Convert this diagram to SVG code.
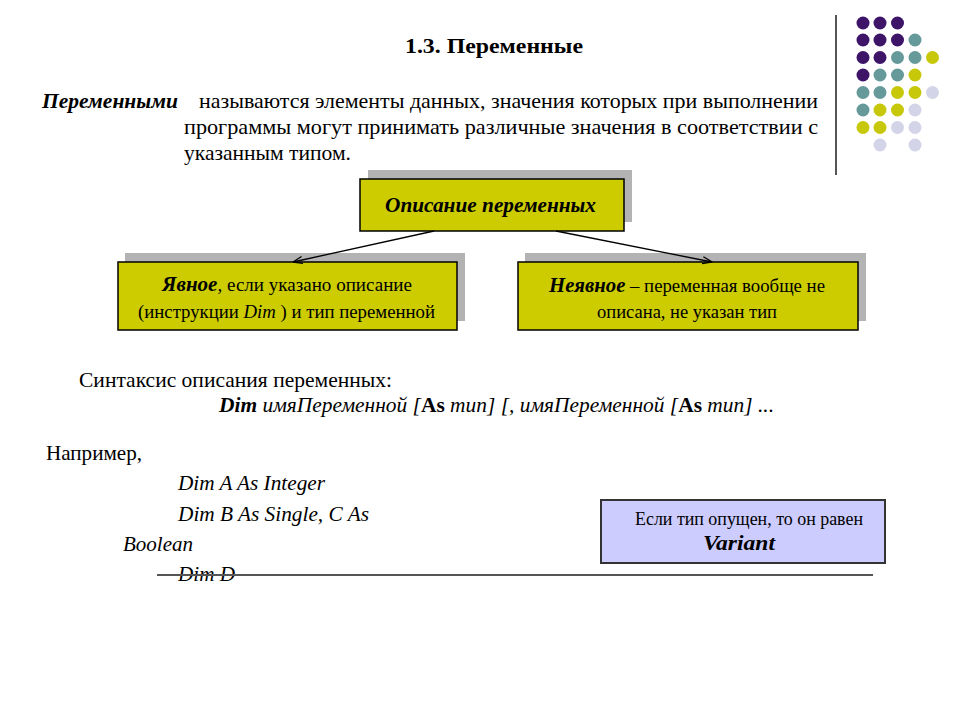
<svg xmlns="http://www.w3.org/2000/svg" width="960" height="720" viewBox="0 0 960 720">
<defs>
<style>
text{font-family:"Liberation Serif","Times New Roman",serif;fill:#000}
.bi{font-weight:bold;font-style:italic}
.i{font-style:italic}
.b{font-weight:bold}
.shadow{fill:#b3b3b3}
.ybox{fill:#cccc00;stroke:#000;stroke-width:1.5}
.conn{stroke:#000;stroke-width:1.3;fill:none}
.P{fill:#3d1468}.T{fill:#669999}.Y{fill:#c8c80a}.L{fill:#d4d4e8}
</style>
<marker id="ah" viewBox="0 0 10 10" refX="9.5" refY="5" markerWidth="10" markerHeight="10" orient="auto" markerUnits="userSpaceOnUse">
<path d="M0,1.5 L9.5,5 L0,8.5" fill="none" stroke="#000" stroke-width="1.3"/>
</marker>
</defs>
<rect width="960" height="720" fill="#fff"/>

<g id="decor">
<line x1="836" y1="15" x2="836" y2="175" stroke="#555" stroke-width="2"/>
<g>
<circle class="P" cx="863" cy="23" r="6.5"/><circle class="P" cx="880" cy="23" r="6.5"/><circle class="P" cx="897.5" cy="23" r="6.5"/>
<circle class="P" cx="863" cy="40" r="6.5"/><circle class="P" cx="880" cy="40" r="6.5"/><circle class="P" cx="897.5" cy="40" r="6.5"/><circle class="T" cx="915" cy="40" r="6.5"/>
<circle class="P" cx="863" cy="57.5" r="6.5"/><circle class="P" cx="880" cy="57.5" r="6.5"/><circle class="T" cx="897.5" cy="57.5" r="6.5"/><circle class="T" cx="915" cy="57.5" r="6.5"/><circle class="Y" cx="932.5" cy="57.5" r="6.5"/>
<circle class="P" cx="863" cy="75" r="6.5"/><circle class="T" cx="880" cy="75" r="6.5"/><circle class="T" cx="897.5" cy="75" r="6.5"/><circle class="Y" cx="915" cy="75" r="6.5"/>
<circle class="T" cx="863" cy="92.5" r="6.5"/><circle class="T" cx="880" cy="92.5" r="6.5"/><circle class="Y" cx="897.5" cy="92.5" r="6.5"/><circle class="Y" cx="915" cy="92.5" r="6.5"/><circle class="L" cx="932.5" cy="92.5" r="6.5"/>
<circle class="T" cx="863" cy="110" r="6.5"/><circle class="Y" cx="880" cy="110" r="6.5"/><circle class="Y" cx="897.5" cy="110" r="6.5"/><circle class="L" cx="915" cy="110" r="6.5"/>
<circle class="Y" cx="863" cy="127.5" r="6.5"/><circle class="Y" cx="880" cy="127.5" r="6.5"/><circle class="L" cx="897.5" cy="127.5" r="6.5"/><circle class="L" cx="915" cy="127.5" r="6.5"/>
<circle class="L" cx="880" cy="145" r="6.5"/><circle class="L" cx="915" cy="145" r="6.5"/>
</g>
</g>

<text x="405" y="53" class="b" font-size="21" textLength="178" lengthAdjust="spacingAndGlyphs">1.3. Переменные</text>

<g font-size="21">
<text x="42" y="108" class="bi" textLength="136" lengthAdjust="spacingAndGlyphs">Переменными</text>
<text x="199" y="108" textLength="619" lengthAdjust="spacingAndGlyphs">называются элементы данных, значения которых при выполнении</text>
<text x="184" y="134" textLength="634" lengthAdjust="spacingAndGlyphs">программы могут принимать различные значения в соответствии с</text>
<text x="184" y="160" textLength="167" lengthAdjust="spacingAndGlyphs">указанным типом.</text>
</g>

<g id="node-top">
<rect class="shadow" x="368" y="170" width="264" height="52"/>
<rect class="ybox" x="360" y="179" width="264" height="52"/>
<text x="385" y="212" class="bi" font-size="22" textLength="211" lengthAdjust="spacingAndGlyphs">Описание переменных</text>
</g>

<g id="node-explicit">
<rect class="shadow" x="125" y="253" width="340" height="68"/>
<rect class="ybox" x="118" y="262" width="339" height="68"/>
<text x="162" y="291" font-size="19" textLength="250" lengthAdjust="spacingAndGlyphs"><tspan class="bi" font-size="21">Явное</tspan>, если указано описание</text>
<text x="138" y="318" font-size="19" textLength="297" lengthAdjust="spacingAndGlyphs">(инструкции <tspan class="i">Dim</tspan>  ) и тип переменной</text>
</g>

<g id="node-implicit">
<rect class="shadow" x="525" y="253" width="341" height="68"/>
<rect class="ybox" x="518" y="262" width="340" height="68"/>
<text x="549" y="292" font-size="19" textLength="276" lengthAdjust="spacingAndGlyphs"><tspan class="bi" font-size="21">Неявное</tspan> – переменная вообще не</text>
<text x="597" y="318" font-size="19" textLength="180" lengthAdjust="spacingAndGlyphs">описана, не указан тип</text>
</g>

<g id="connectors">
<line class="conn" x1="434" y1="231" x2="293" y2="262" marker-end="url(#ah)"/>
<line class="conn" x1="556" y1="231" x2="712" y2="262" marker-end="url(#ah)"/>
</g>

<text x="79" y="387" font-size="22" textLength="313" lengthAdjust="spacingAndGlyphs">Синтаксис описания переменных:</text>
<text x="219" y="412" font-size="21" class="i" textLength="555" lengthAdjust="spacingAndGlyphs"><tspan class="b">Dim</tspan> имяПеременной [<tspan class="b" font-style="normal">As</tspan> тип] [, имяПеременной [<tspan class="b" font-style="normal">As</tspan> тип] ...</text>

<text x="46" y="460" font-size="22" textLength="96" lengthAdjust="spacingAndGlyphs">Например,</text>
<g font-size="20" class="i">
<text x="178" y="490" textLength="147" lengthAdjust="spacingAndGlyphs">Dim A As Integer</text>
<text x="178" y="521" textLength="191" lengthAdjust="spacingAndGlyphs">Dim B As Single, C As</text>
<text x="123" y="551" textLength="70" lengthAdjust="spacingAndGlyphs">Boolean</text>
<text x="178" y="581" textLength="57" lengthAdjust="spacingAndGlyphs">Dim D</text>
</g>
<line x1="157" y1="575" x2="873" y2="575" stroke="#555" stroke-width="1.8"/>

<g id="node-variant">
<rect x="601" y="500" width="284" height="63" fill="#ccccff" stroke="#333" stroke-width="2"/>
<text x="635" y="525" font-size="18" textLength="228" lengthAdjust="spacingAndGlyphs">Если тип опущен, то он равен</text>
<text x="703" y="550" class="bi" font-size="20" textLength="72" lengthAdjust="spacingAndGlyphs">Variant</text>
</g>
</svg>
